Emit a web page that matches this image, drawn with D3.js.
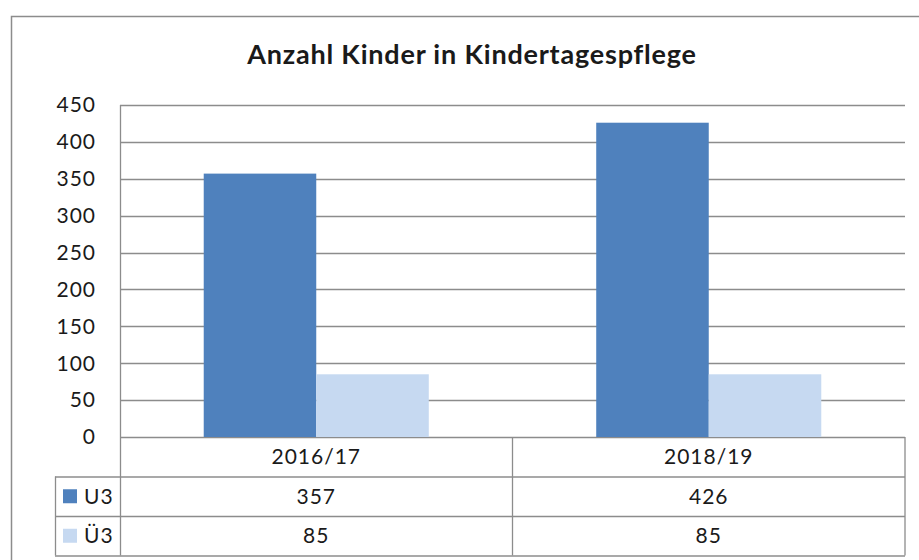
<!DOCTYPE html>
<html lang="de">
    <head>
        <meta charset="utf-8">
        <title>Anzahl Kinder in Kindertagespflege</title>
        <script type="text/javascript" src="https://cdn.jsdelivr.net/npm/d3@7"></script>
        <style type="text/css">
        body { margin: 0; background: #fff; }
        text { font-family: Lato, "Open Sans", sans-serif; fill: #1a1a1a; }
        .lbl { font-size: 21px; letter-spacing: 1px; }
        .grid line { stroke: #8c8c8c; stroke-width: 1.3px; }
        .tbl line { stroke: #8c8c8c; stroke-width: 1.3px; }
		</style>
    </head>
    <body>
        <script type="text/javascript">

            // data
            var categories = ["2016/17", "2018/19"];
            var seriesNames = ["U3", "Ü3"];
            var u3Values = [357, 426];
            var ue3Values = [85, 85];
            var yTicks = [0, 50, 100, 150, 200, 250, 300, 350, 400, 450];
            var colors = ["#4f81bd", "#c6d9f1"];

            var width = 919, height = 560;
            var plot = {left: 120, right: 905, top: 105, bottom: 437};
            var rowH = 39.5;
            var legendLeft = 55;

            var svg = d3.select("body")
                        .append("svg")
                            .attr("width", width)
                            .attr("height", height);

            // outer chart border
            svg.append("rect")
                .attr("x", 11.5).attr("y", 16.5)
                .attr("width", 940).attr("height", 600)
                .attr("fill", "none")
                .attr("stroke", "#8c8c8c")
                .attr("stroke-width", 1.5);

            svg.append("text")
                .attr("x", 472)
                .attr("y", 64)
                .attr("text-anchor", "middle")
                .style("font-size", "27px")
                .style("font-weight", "bold")
                .style("letter-spacing", "0.8px")
                .text("Anzahl Kinder in Kindertagespflege");

            var YScale = d3.scaleLinear().domain([0, 450]).range([plot.bottom, plot.top]);
            var XScale = d3.scaleBand().domain(categories).range([plot.left, plot.right]).padding(0);
            var X1 = d3.scaleBand().domain(seriesNames).range([0, XScale.bandwidth()])
                        .paddingInner(0).paddingOuter(0.744);

            // gridlines
            svg.append("g")
                .attr("class", "grid")
                .selectAll("line")
                .data(yTicks)
                .enter().append("line")
                    .attr("x1", plot.left)
                    .attr("x2", plot.right)
                    .attr("y1", d => Math.round(YScale(d)) + 0.5)
                    .attr("y2", d => Math.round(YScale(d)) + 0.5);

            // y axis labels
            svg.append("g")
                .selectAll("text")
                .data(yTicks)
                .enter().append("text")
                    .attr("class", "lbl")
                    .attr("x", 96)
                    .attr("y", d => YScale(d))
                    .attr("dy", "0.35em")
                    .attr("text-anchor", "end")
                    .text(d => d);

            // bars
            var barData = [];
            categories.forEach(function(c, i) {
                barData.push({cat: c, series: "U3", value: u3Values[i]});
                barData.push({cat: c, series: "Ü3", value: ue3Values[i]});
            });

            svg.append("g")
                .selectAll("rect")
                .data(barData)
                .enter().append("rect")
                    .attr("x", d => XScale(d.cat) + X1(d.series))
                    .attr("width", X1.bandwidth())
                    .attr("y", d => YScale(d.value))
                    .attr("height", d => YScale(0) - YScale(d.value))
                    .attr("fill", d => colors[seriesNames.indexOf(d.series)]);

            // data table
            var tbl = svg.append("g").attr("class", "tbl");
            var tableBottom = plot.bottom + 3 * rowH;

            // vertical axis line continuing into table
            tbl.append("line")
                .attr("x1", plot.left + 0.5).attr("x2", plot.left + 0.5)
                .attr("y1", plot.top).attr("y2", tableBottom);
            tbl.append("line")
                .attr("x1", legendLeft + 0.5).attr("x2", legendLeft + 0.5)
                .attr("y1", plot.bottom + rowH).attr("y2", tableBottom);
            tbl.selectAll(".vcol")
                .data(categories)
                .enter().append("line")
                    .attr("class", "vcol")
                    .attr("x1", d => XScale(d) + XScale.bandwidth())
                    .attr("x2", d => XScale(d) + XScale.bandwidth())
                    .attr("y1", plot.bottom)
                    .attr("y2", tableBottom);
            [1, 2, 3].forEach(function(r) {
                tbl.append("line")
                    .attr("x1", legendLeft).attr("x2", plot.right)
                    .attr("y1", plot.bottom + r * rowH + 0.5)
                    .attr("y2", plot.bottom + r * rowH + 0.5);
            });

            // category labels
            svg.append("g")
                .selectAll("text")
                .data(categories)
                .enter().append("text")
                    .attr("class", "lbl")
                    .attr("x", d => XScale(d) + XScale.bandwidth() / 2)
                    .attr("y", plot.bottom + rowH / 2)
                    .attr("dy", "0.35em")
                    .attr("text-anchor", "middle")
                    .text(d => d);

            var rows = [u3Values, ue3Values];
            rows.forEach(function(vals, r) {
                var yMid = plot.bottom + (r + 1) * rowH + rowH / 2;
                svg.append("rect")
                    .attr("x", 63).attr("y", yMid - 7)
                    .attr("width", 14).attr("height", 14)
                    .attr("fill", colors[r]);
                svg.append("text")
                    .attr("class", "lbl")
                    .attr("x", 84).attr("y", yMid)
                    .attr("dy", "0.35em")
                    .text(seriesNames[r]);
                svg.append("g")
                    .selectAll("text")
                    .data(vals)
                    .enter().append("text")
                        .attr("class", "lbl")
                        .attr("x", (d, i) => XScale(categories[i]) + XScale.bandwidth() / 2)
                        .attr("y", yMid)
                        .attr("dy", "0.35em")
                        .attr("text-anchor", "middle")
                        .text(d => d);
            });
        </script>
    </body>
</html>
